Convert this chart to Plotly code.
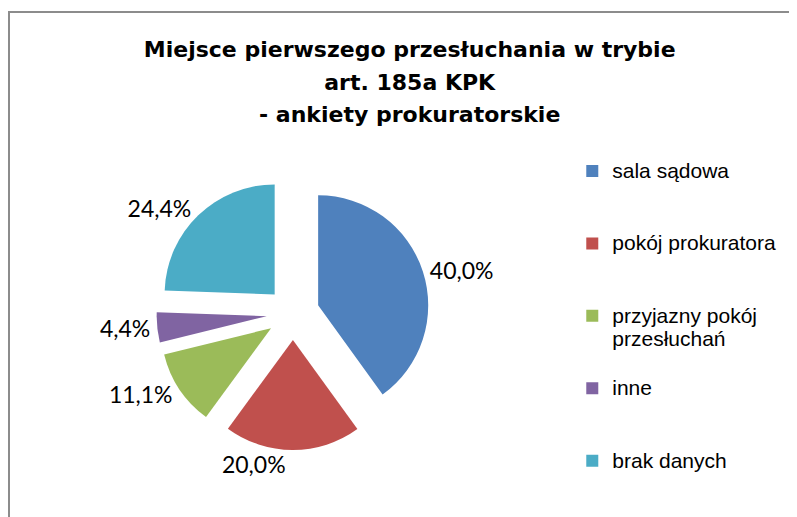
import plotly.graph_objects as go

# ---- data ----
categories = ["sala sądowa", "pokój prokuratora", "przyjazny pokój<br>przesłuchań", "inne", "brak danych"]
values = [40.0, 20.0, 11.1, 4.4, 24.4]
colors = ["#4F81BD", "#C0504D", "#9BBB59", "#8064A2", "#4BACC6"]
title_lines = ["Miejsce pierwszego przesłuchania w trybie", "art. 185a KPK", "- ankiety prokuratorskie"]

LEG_PX = 21


def legend_label(name):
    # pad with a blank first line so the swatch sits on the first text line
    lines = name.split("<br>")
    if len(lines) == 1:
        lines = [" ", lines[0], " "]
    else:
        lines = [" "] + lines
    return "<br>".join(f"<span style='font-size:{LEG_PX}px'>{l}</span>" for l in lines)


labels = [legend_label(c) for c in categories]

fig = go.Figure()
fig.add_trace(go.Pie(
    labels=labels,
    values=values,
    sort=False,
    direction="clockwise",
    rotation=0,
    pull=0.24,
    marker=dict(colors=colors, line=dict(width=0)),
    texttemplate="%{percent:.1%}",
    textposition="outside",
    outsidetextfont=dict(family="Lato", size=23, color="#000000"),
    domain=dict(x=[0.1863, 0.5289], y=[0.1451, 0.6731]),
    hoverinfo="skip",
))

title_text = "<br>".join(f"<span style='font-size:22px'>{t}</span>" for t in title_lines)

fig.update_layout(
    width=797,
    height=517,
    margin=dict(l=0, r=0, t=0, b=0, autoexpand=False),
    paper_bgcolor="white",
    plot_bgcolor="white",
    separators=", ",
    title=dict(
        text=title_text,
        x=0.504,
        xanchor="center",
        y=0.905,
        yanchor="top",
        font=dict(family="DejaVu Sans", size=25, color="#000000", weight="bold"),
    ),
    legend=dict(
        x=0.708,
        xanchor="left",
        y=0.7645,
        yanchor="top",
        font=dict(family="Liberation Sans, Arial", size=17.8, color="#000000"),
        bgcolor="rgba(0,0,0,0)",
        traceorder="normal",
    ),
    shapes=[dict(
        type="rect", xref="paper", yref="paper",
        x0=1 / 797, x1=1.05, y0=-0.05, y1=1 - 4 / 517,
        line=dict(color="#8C8C8C", width=2),
        fillcolor="rgba(0,0,0,0)",
        layer="below",
    )],
)

fig.write_html("out.html")
